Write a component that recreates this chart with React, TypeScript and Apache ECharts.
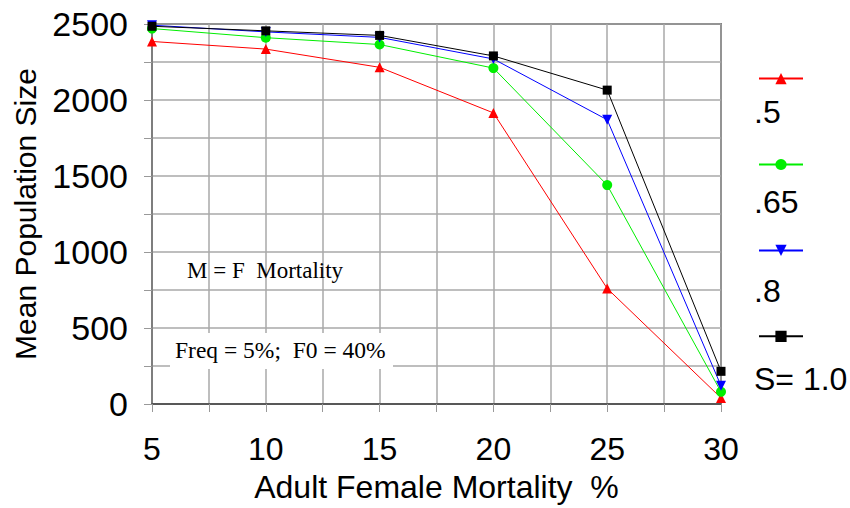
import React, { useEffect, useRef } from "react";
import * as echarts from "echarts";

const mortality = [5, 10, 15, 20, 25, 30];
const seriesNames = [".5", ".65", ".8", "S= 1.0"];
const s05 = [2385, 2335, 2215, 1915, 760, 40];
const s065 = [2470, 2410, 2365, 2210, 1440, 80];
const s08 = [2492, 2448, 2412, 2270, 1870, 120];
const s10 = [2485, 2455, 2425, 2290, 2065, 215];
const xTicks = [5, 30, 5];
const yTicks = [0, 2500, 500];

const colors = ["#ff0000", "#00ee00", "#0000ff", "#000000"];
const symbols = ["triangle", "circle", "triangle", "rect"];
const rotations = [0, 0, 180, 0];
const values = [s05, s065, s08, s10];

const SANS = "Liberation Sans, Arial, sans-serif";
const SERIF = "Liberation Serif, Times New Roman, serif";

export default function App() {
  const ref = useRef<HTMLDivElement>(null);
  useEffect(() => {
    if (!ref.current) return;
    const chart = echarts.init(ref.current, undefined, { renderer: "svg" });
    const series = seriesNames.map((name, i) => ({
      name,
      type: "line",
      data: mortality.map((m, j) => [m, values[i][j]]),
      symbol: symbols[i],
      symbolRotate: rotations[i],
      symbolSize: symbols[i] === "rect" ? 9 : 10,
      showSymbol: true,
      lineStyle: { color: colors[i], width: 1 },
      itemStyle: { color: colors[i] },
      z: 3 + i,
    }));
    const gridLine = { show: true, lineStyle: { color: "#a8a8a8", width: 1.5 } };
    chart.setOption({
      animation: false,
      backgroundColor: "#ffffff",
      grid: {
        left: 152,
        right: 129,
        top: 24,
        bottom: 103,
        show: true,
        borderColor: "#222",
        borderWidth: 1.5,
      },
      legend: {
        orient: "vertical",
        left: 753,
        top: 68,
        itemWidth: 44,
        itemHeight: 14,
        itemGap: 74.7,
        formatter: () => "",
        textStyle: { fontSize: 1, lineHeight: 1 },
        data: seriesNames,
      },
      xAxis: {
        type: "value",
        min: xTicks[0],
        max: xTicks[1],
        interval: xTicks[2],
        name: "Adult Female Mortality  %",
        nameLocation: "middle",
        nameGap: 67,
        nameTextStyle: { fontFamily: SANS, fontSize: 32, color: "#000" },
        axisLine: { show: true, lineStyle: { color: "#444", width: 1.5 } },
        axisTick: { show: true, length: 8, lineStyle: { color: "#999" } },
        minorTick: { show: true, splitNumber: 2, length: 8, lineStyle: { color: "#999" } },
        splitLine: gridLine,
        minorSplitLine: gridLine,
        axisLabel: { fontFamily: SANS, fontSize: 32, color: "#000", margin: 29 },
      },
      yAxis: {
        type: "value",
        min: yTicks[0],
        max: yTicks[1],
        interval: yTicks[2],
        name: "Mean Population Size",
        nameLocation: "middle",
        nameRotate: 90,
        nameGap: 112,
        nameTextStyle: { fontFamily: SANS, fontSize: 30, color: "#000" },
        axisLine: { show: true, lineStyle: { color: "#777", width: 1.5 } },
        axisTick: { show: true, length: 8, lineStyle: { color: "#999" } },
        minorTick: { show: true, splitNumber: 2, length: 8, lineStyle: { color: "#999" } },
        splitLine: gridLine,
        minorSplitLine: gridLine,
        axisLabel: {
          fontFamily: SANS,
          fontSize: 34,
          color: "#000",
          margin: 24,
          formatter: (v: number) => String(v),
        },
      },
      graphic: [
        { type: "text", left: 754, top: 113 - 17, z: 10, style: { text: seriesNames[0], font: `32px ${SANS}`, fill: "#000" } },
        { type: "text", left: 754, top: 203 - 17, z: 10, style: { text: seriesNames[1], font: `32px ${SANS}`, fill: "#000" } },
        { type: "text", left: 754, top: 292 - 17, z: 10, style: { text: seriesNames[2], font: `32px ${SANS}`, fill: "#000" } },
        { type: "text", left: 754, top: 380 - 17, z: 10, style: { text: seriesNames[3], font: `32px ${SANS}`, fill: "#000" } },
        { type: "text", left: 187, top: 259, z: 10, style: { text: "M = F  Mortality", font: `23px ${SERIF}`, fill: "#000" } },
        { type: "rect", left: 170, top: 333, z: 9, shape: { width: 223, height: 36 }, style: { fill: "#ffffff" } },
        { type: "text", left: 175, top: 338, z: 10, style: { text: "Freq = 5%;  F0 = 40%", font: `23.5px ${SERIF}`, fill: "#000" } },
      ],
      series,
    });
    return () => chart.dispose();
  }, []);
  return <div ref={ref} style={{ position: "fixed", left: 0, top: 0, width: 850, height: 508 }} />;
}
